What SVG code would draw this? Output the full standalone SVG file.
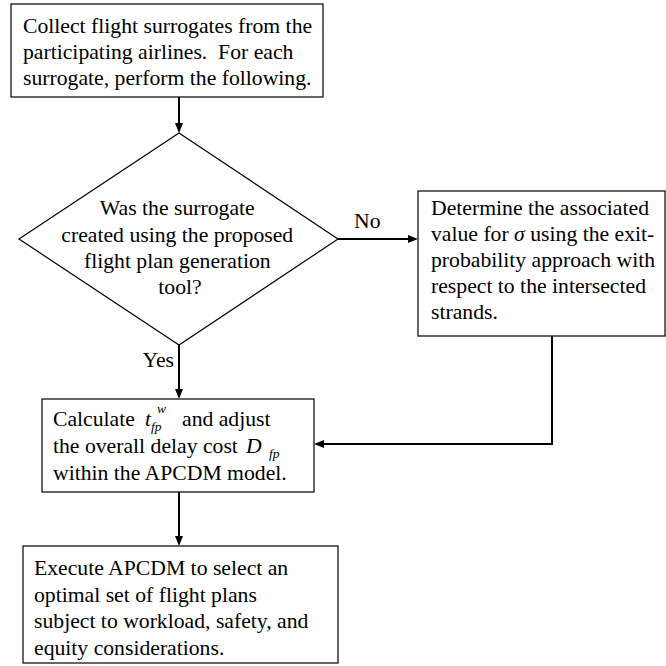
<svg xmlns="http://www.w3.org/2000/svg" width="666" height="666" viewBox="0 0 666 666">
  <style>
    .box { fill: #fff; stroke: #000; stroke-width: 1.2; }
    .txt { font-family: "Liberation Serif", "Times New Roman", serif; font-size: 21.7px; fill: #000; }
    .it { font-style: italic; }
    .sub { font-family: "Liberation Serif", "Times New Roman", serif; font-style: italic; font-size: 13.5px; fill: #000; }
    .conn { fill: none; stroke: #000; stroke-width: 2; }
  </style>
  <defs>
    <marker id="arrow" viewBox="0 0 10 8" refX="8" refY="4" markerWidth="10" markerHeight="8" markerUnits="userSpaceOnUse" orient="auto">
      <path d="M0,0 L10,4 L0,8 z" fill="#000"/>
    </marker>
  </defs>

  <rect width="666" height="666" fill="#fff"/>

  <g id="connectors">
    <line class="conn" x1="179" y1="97" x2="179" y2="131" marker-end="url(#arrow)"/>
    <line class="conn" x1="338" y1="239" x2="416" y2="239" marker-end="url(#arrow)"/>
    <line class="conn" x1="179" y1="345" x2="179" y2="397" marker-end="url(#arrow)"/>
    <polyline class="conn" points="552,336 552,444 316,444" marker-end="url(#arrow)"/>
    <line class="conn" x1="179" y1="492" x2="179" y2="544" marker-end="url(#arrow)"/>
    <text class="txt" x="354" y="228">No</text>
    <text class="txt" x="174" y="367" text-anchor="end">Yes</text>
  </g>

  <g id="collect">
    <rect class="box" x="11" y="4" width="312" height="93"/>
    <text class="txt" x="23" y="33">Collect flight surrogates from the</text>
    <text class="txt" x="23" y="59">participating airlines.&#160; For each</text>
    <text class="txt" x="23" y="85">surrogate, perform the following.</text>
  </g>

  <g id="decision">
    <polygon class="box" points="179,133 338,239 179,345 19,239"/>
    <text class="txt" text-anchor="middle">
      <tspan x="180" y="215">Was the surrogate</tspan>
      <tspan x="180" y="242">created using the proposed</tspan>
      <tspan x="180" y="268">flight plan generation</tspan>
      <tspan x="180" y="294">tool?</tspan>
    </text>
  </g>

  <g id="sigma">
    <rect class="box" x="418" y="191" width="247" height="145"/>
    <text class="txt" x="431" y="215">Determine the associated</text>
    <text class="txt" x="431" y="241">value for <tspan class="it">σ</tspan> using the exit-</text>
    <text class="txt" x="431" y="267">probability approach with</text>
    <text class="txt" x="431" y="293">respect to the intersected</text>
    <text class="txt" x="431" y="319">strands.</text>
  </g>

  <g id="calculate">
    <rect class="box" x="42" y="399" width="272" height="93"/>
    <text class="txt" x="53" y="426">Calculate</text>
    <text class="txt it" x="145" y="426" font-size="24">t</text>
    <text class="sub" x="157" y="413">w</text>
    <text class="sub" x="151" y="431">fp</text>
    <text class="txt" x="182" y="426">and adjust</text>
    <text class="txt" x="53" y="453">the overall delay cost</text>
    <text class="txt it" x="246" y="453" font-size="25">D</text>
    <text class="sub" x="269" y="458">fp</text>
    <text class="txt" x="53" y="480">within the APCDM model.</text>
  </g>

  <g id="execute">
    <rect class="box" x="23" y="546" width="315" height="117"/>
    <text class="txt" x="34" y="575">Execute APCDM to select an</text>
    <text class="txt" x="34" y="602">optimal set of flight plans</text>
    <text class="txt" x="34" y="628">subject to workload, safety, and</text>
    <text class="txt" x="34" y="655">equity considerations.</text>
  </g>
</svg>
